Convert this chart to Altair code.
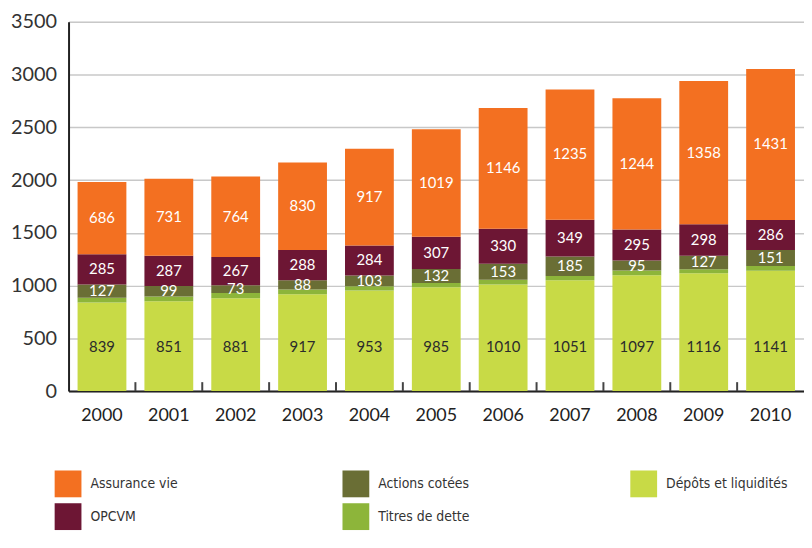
import altair as alt
import pandas as pd

years = [str(y) for y in range(2000, 2011)]
depots = [839, 851, 881, 917, 953, 985, 1010, 1051, 1097, 1116, 1141]
titres = [45, 45, 50, 45, 40, 40, 45, 40, 45, 40, 45]
actions = [127, 99, 73, 88, 103, 132, 153, 185, 95, 127, 151]
opcvm = [285, 287, 267, 288, 284, 307, 330, 349, 295, 298, 286]
assurance = [686, 731, 764, 830, 917, 1019, 1146, 1235, 1244, 1358, 1431]

stack_order = ["Dépôts et liquidités", "Titres de dette", "Actions cotées", "OPCVM", "Assurance vie"]
series_vals = {
    "Dépôts et liquidités": depots,
    "Titres de dette": titres,
    "Actions cotées": actions,
    "OPCVM": opcvm,
    "Assurance vie": assurance,
}
legend_order = ["Assurance vie", "OPCVM", "Actions cotées", "Titres de dette", "Dépôts et liquidités"]
legend_colors = ["#F37021", "#6D1634", "#6A6E35", "#8DB53A", "#C8DA46"]

rows = []
for i, yr in enumerate(years):
    base = 0
    for s in stack_order:
        v = series_vals[s][i]
        if s == "Dépôts et liquidités":
            ymid = depots[0] / 2
            tcol = "#2b2b2b"
        else:
            ymid = base + v / 2
            tcol = "#ffffff"
        rows.append({"year": yr, "series": s, "value": v, "y0": base, "y1": base + v,
                     "ymid": ymid, "tcolor": tcol})
        base += v
df = pd.DataFrame(rows)
df_lbl = df[df["series"] != "Titres de dette"]
df_ticks = pd.DataFrame({"year": years[1:]})

W = 741
H = 372
FONT = "Lato"

xscale = alt.Scale(paddingInner=0.27, paddingOuter=0.135)

bars = alt.Chart(df).mark_bar().encode(
    x=alt.X("year:O", scale=xscale, sort=years,
            axis=alt.Axis(title=None, labelAngle=0, labelFontSize=18, labelColor="#222",
                          labelFont=FONT, ticks=False, domainColor="#222", domainWidth=2,
                          labelPadding=16)),
    y=alt.Y("y0:Q", scale=alt.Scale(domain=[0, 3500], nice=False),
            axis=alt.Axis(title=None, values=list(range(0, 3501, 500)), ticks=False, format="d",
                          labelFontSize=20, labelColor="#333", labelFont=FONT, labelPadding=12,
                          gridColor="#c8c8c8", gridWidth=1.5, domainColor="#222", domainWidth=2)),
    y2="y1:Q",
    color=alt.Color("series:N", scale=alt.Scale(domain=legend_order, range=legend_colors),
                    legend=alt.Legend(title=None, orient="none", legendX=-14, legendY=452,
                                      columns=3, symbolType="square", symbolSize=729,
                                      symbolStrokeWidth=0, symbolOpacity=1,
                                      labelFontSize=14, labelFont="DejaVu Sans Condensed",
                                      labelColor="#333", labelOffset=9, gridAlign="all",
                                      columnPadding=131, rowPadding=6)),
)

ticks = alt.Chart(df_ticks).mark_rule(color="#444", strokeWidth=2, xOffset=-W / 11 / 2).encode(
    x=alt.X("year:O", sort=years),
    y=alt.value(H - 9),
    y2=alt.value(H),
)

labels = alt.Chart(df_lbl).mark_text(fontSize=15, font=FONT).encode(
    x=alt.X("year:O", sort=years),
    y=alt.Y("ymid:Q"),
    text=alt.Text("value:Q"),
    color=alt.Color("tcolor:N", scale=None),
)

chart = alt.layer(bars, ticks, labels).resolve_scale(color="independent").properties(
    width=W, height=H, padding={"left": 2, "top": 2, "right": 0, "bottom": 0}
).configure_view(stroke=None).configure(background="white")

chart.save("out.html", embed_options={"renderer": "svg", "actions": False})
